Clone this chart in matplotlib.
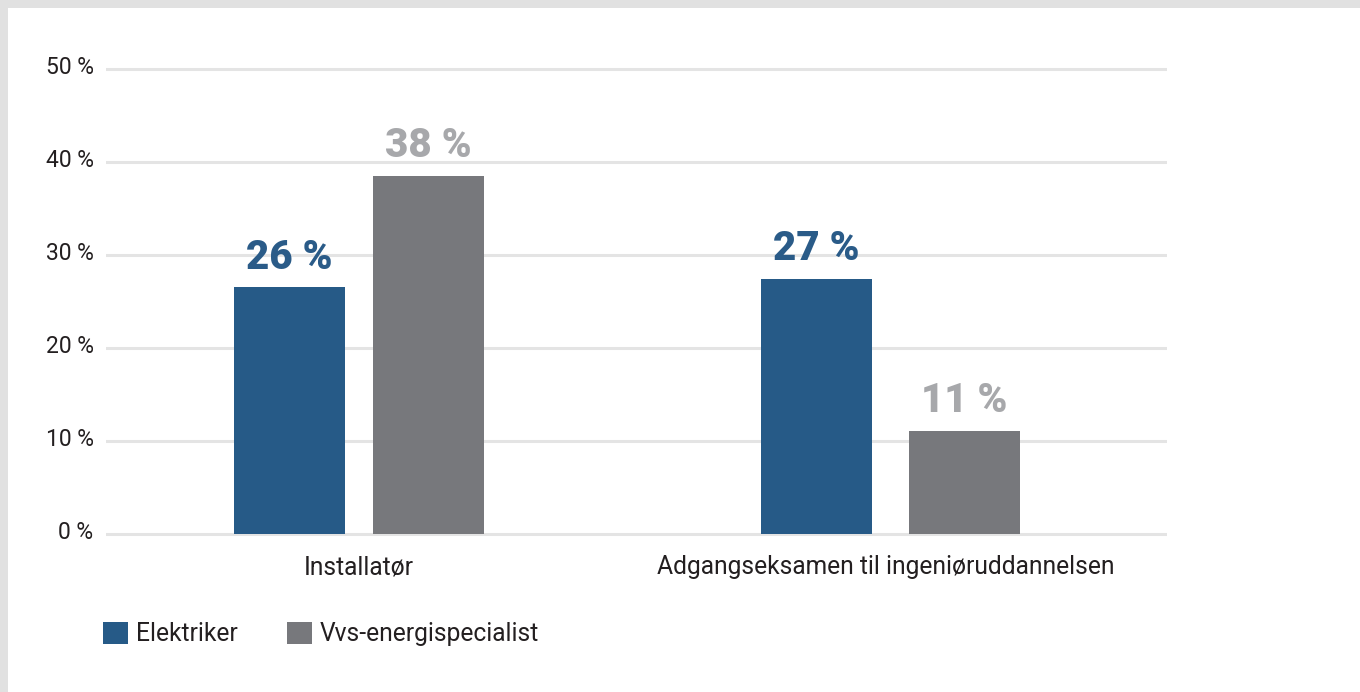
import matplotlib
matplotlib.use("Agg")
import matplotlib.pyplot as plt
import matplotlib.transforms as mtransforms
from matplotlib.patches import Rectangle, Patch
import numpy as np

plt.rcParams['font.family'] = ['Roboto', 'DejaVu Sans']

categories = ["Installatør", "Adgangseksamen til ingeniøruddannelsen"]
series_names = ["Elektriker", "Vvs-energispecialist"]
elektriker = [26.5, 27.4]
vvs = [38.5, 11.1]
elektriker_labels = ["26 %", "27 %"]
vvs_labels = ["38 %", "11 %"]
yticks = [0, 10, 20, 30, 40, 50]
ytick_labels = ["0 %", "10 %", "20 %", "30 %", "40 %", "50 %"]

BLUE = "#265a87"
GRAY = "#77787c"
BLUE_LBL = "#2a5b88"
GRAY_LBL = "#a7a8ab"
TXT = "#231f20"

W, H = 1360, 692
fig = plt.figure(figsize=(W / 100, H / 100), dpi=100, facecolor="#e1e1e1")
fig.patches.append(Rectangle((8 / W, 0), 1 - 8 / W, 1 - 8 / H, transform=fig.transFigure,
                             facecolor="white", edgecolor="none", zorder=-10))

# axes geometry (pixel-derived)
px_per_unit = 9.31
y0 = 534
ylo, yhi = -0.5, 51
bottom_px = y0 + (-ylo) * px_per_unit
top_px = y0 - yhi * px_per_unit
ax = fig.add_axes([106 / W, 1 - bottom_px / H, (1167 - 106) / W, (bottom_px - top_px) / H])
ax.set_facecolor("none")
ax.set_zorder(1)

x = np.arange(len(categories))
bw = 0.209
group_half_gap = np.array([0.1308, 0.1392])  # layout: half distance between bar centres per group
b1 = ax.bar(x - group_half_gap, elektriker, bw, color=BLUE, zorder=3, label=series_names[0])
b2 = ax.bar(x + group_half_gap, vvs, bw, color=GRAY, zorder=3, label=series_names[1])

for bars, labels, col in ((b1, elektriker_labels, BLUE_LBL), (b2, vvs_labels, GRAY_LBL)):
    for rect, lbl in zip(bars, labels):
        ax.annotate(lbl, (rect.get_x() + rect.get_width() / 2, rect.get_height()),
                    xytext=(0, 13.5), textcoords="offset points", ha="center", va="baseline",
                    fontsize=29, fontweight="black", color=col)

ax.set_ylim(ylo, yhi)
ax.set_xlim(-0.476, 1.520)
ax.set_yticks(yticks)
ax.set_yticklabels(ytick_labels)
ax.set_xticks(x)
ax.set_xticklabels(categories)
ax.tick_params(axis="both", length=0, colors=TXT)
ax.tick_params(axis="y", pad=9, labelsize=16.5)
ax.tick_params(axis="x", pad=12, labelsize=17.7)
ax.grid(axis="y", color="#e4e4e4", linewidth=2.2, zorder=0)
for s in ax.spines.values():
    s.set_visible(False)

# nudge y tick labels slightly upward, x label of the second group slightly left
up = mtransforms.ScaledTranslation(0, 4 / 100, fig.dpi_scale_trans)
for lab in ax.get_yticklabels():
    lab.set_transform(lab.get_transform() + up)
left = mtransforms.ScaledTranslation(-5 / 100, 0, fig.dpi_scale_trans)
xl = ax.get_xticklabels()
xl[1].set_transform(xl[1].get_transform() + left)

handles = [Patch(facecolor=BLUE, edgecolor="none"), Patch(facecolor=GRAY, edgecolor="none")]
fig.legend(handles, series_names, loc="center left", bbox_to_anchor=(81 / W, 1 - 634 / H),
           ncol=2, frameon=False, fontsize=17.7, handlelength=1.02, handleheight=1.02,
           handletextpad=0.32, columnspacing=2.0, labelcolor=TXT)

fig.savefig("out.png", dpi=100, facecolor=fig.get_facecolor())
